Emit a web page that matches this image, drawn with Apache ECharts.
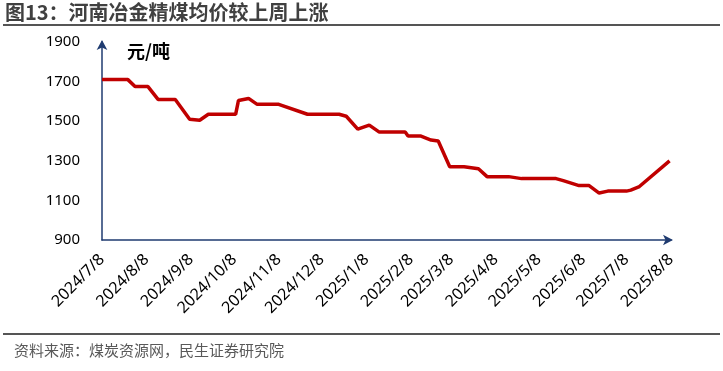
<!DOCTYPE html>
<html>
<head>
<meta charset="utf-8">
<script src="https://cdn.jsdelivr.net/npm/echarts@6/dist/echarts.min.js"></script>
<style>
html,body{margin:0;padding:0;background:#fff;}
#c{width:723px;height:371px;}
</style>
</head>
<body>
<div id="c"></div>
<script>
var titleText = '图13：河南冶金精煤均价较上周上涨';
var sourceText = '资料来源：煤炭资源网，民生证券研究院';
var unitText = '元/吨';

var dates = [
  '2024-07-08','2024-07-26','2024-07-31','2024-08-09','2024-08-16','2024-08-28',
  '2024-09-07','2024-09-14','2024-09-20','2024-10-09','2024-10-11','2024-10-18',
  '2024-10-24','2024-11-08','2024-11-28','2024-12-20','2024-12-25','2025-01-02',
  '2025-01-10','2025-01-17','2025-02-04','2025-02-06','2025-02-15','2025-02-22',
  '2025-02-27','2025-03-07','2025-03-17','2025-03-27','2025-04-02','2025-04-17',
  '2025-04-26','2025-05-20','2025-05-25','2025-06-05','2025-06-12','2025-06-19',
  '2025-06-25','2025-07-08','2025-07-11','2025-07-17','2025-08-07'
];
var prices = [
  1710,1710,1675,1675,1610,1610,
  1510,1505,1535,1535,1605,1615,
  1585,1585,1535,1535,1525,1460,
  1480,1445,1445,1425,1425,1405,
  1400,1270,1270,1260,1220,1220,
  1210,1210,1200,1175,1175,1137,
  1147,1147,1152,1170,1300
];
var tickDates = [
  '2024-07-08','2024-08-08','2024-09-08','2024-10-08','2024-11-08','2024-12-08',
  '2025-01-08','2025-02-08','2025-03-08','2025-04-08','2025-05-08','2025-06-08',
  '2025-07-08','2025-08-08'
];
var yMin = 900, yMax = 1900, yStep = 200;

function ts(s){ var p = s.split('-'); return Date.UTC(+p[0], +p[1]-1, +p[2]); }
function fmt(v){ var d = new Date(v); return d.getUTCFullYear() + '/' + (d.getUTCMonth()+1) + '/' + d.getUTCDate(); }

var seriesData = dates.map(function(d,i){ return [ts(d), prices[i]]; });
var tickVals = tickDates.map(ts);

var chart = echarts.init(document.getElementById('c'), null, {renderer:'canvas'});
var axisColor = '#1F3B70';
chart.setOption({
  animation: false,
  backgroundColor: '#fff',
  textStyle: {fontFamily: '"Noto Sans CJK SC", "Noto Sans", sans-serif'},
  grid: {left: 102, right: 52, top: 42, bottom: 131, containLabel: false},
  xAxis: {
    type: 'value',
    min: tickVals[0],
    max: tickVals[tickVals.length-1],
    axisLine: {show: true, symbol: ['none','arrow'], symbolSize: [8,10], symbolOffset: [0,2],
      lineStyle: {color: axisColor, width: 1.5}},
    axisTick: {show: false},
    splitLine: {show: false},
    axisLabel: {
      customValues: tickVals,
      rotate: 45,
      margin: 17,
      fontSize: 16,
      color: '#000',
      fontFamily: '"Noto Sans", sans-serif',
      formatter: function(v){ return fmt(v); }
    }
  },
  yAxis: {
    type: 'value',
    min: yMin, max: yMax, interval: yStep,
    axisLine: {show: true, symbol: ['none','arrow'], symbolSize: [8,10], symbolOffset: [0,2],
      lineStyle: {color: axisColor, width: 1.5}},
    axisTick: {show: false},
    splitLine: {show: false},
    axisLabel: {fontSize: 15, color: '#000', margin: 22, fontFamily: '"Noto Sans", sans-serif',
      formatter: function(v){ return String(v); }}
  },
  series: [{
    type: 'line',
    data: seriesData,
    showSymbol: false,
    symbol: 'none',
    lineStyle: {color: '#C00000', width: 3.5},
    z: 3
  }],
  graphic: [
    {type: 'text', left: 5, top: 2, style: {text: titleText, fontSize: 20, fontWeight: 'bold', fill: '#404040',
      fontFamily: '"Noto Sans CJK SC", sans-serif'}},
    {type: 'rect', shape: {x: 3, y: 24, width: 717, height: 2}, style: {fill: '#555'}},
    {type: 'text', left: 127, top: 42, style: {text: unitText, fontSize: 18, fontWeight: 'bold', fill: '#000',
      fontFamily: '"Noto Sans CJK SC", sans-serif'}},
    {type: 'rect', shape: {x: 3, y: 333, width: 717, height: 2}, style: {fill: '#555'}},
    {type: 'text', left: 14, top: 343, style: {text: sourceText, fontSize: 15, fill: '#595959',
      fontFamily: '"Noto Sans CJK SC", sans-serif'}}
  ]
});
</script>
</body>
</html>
